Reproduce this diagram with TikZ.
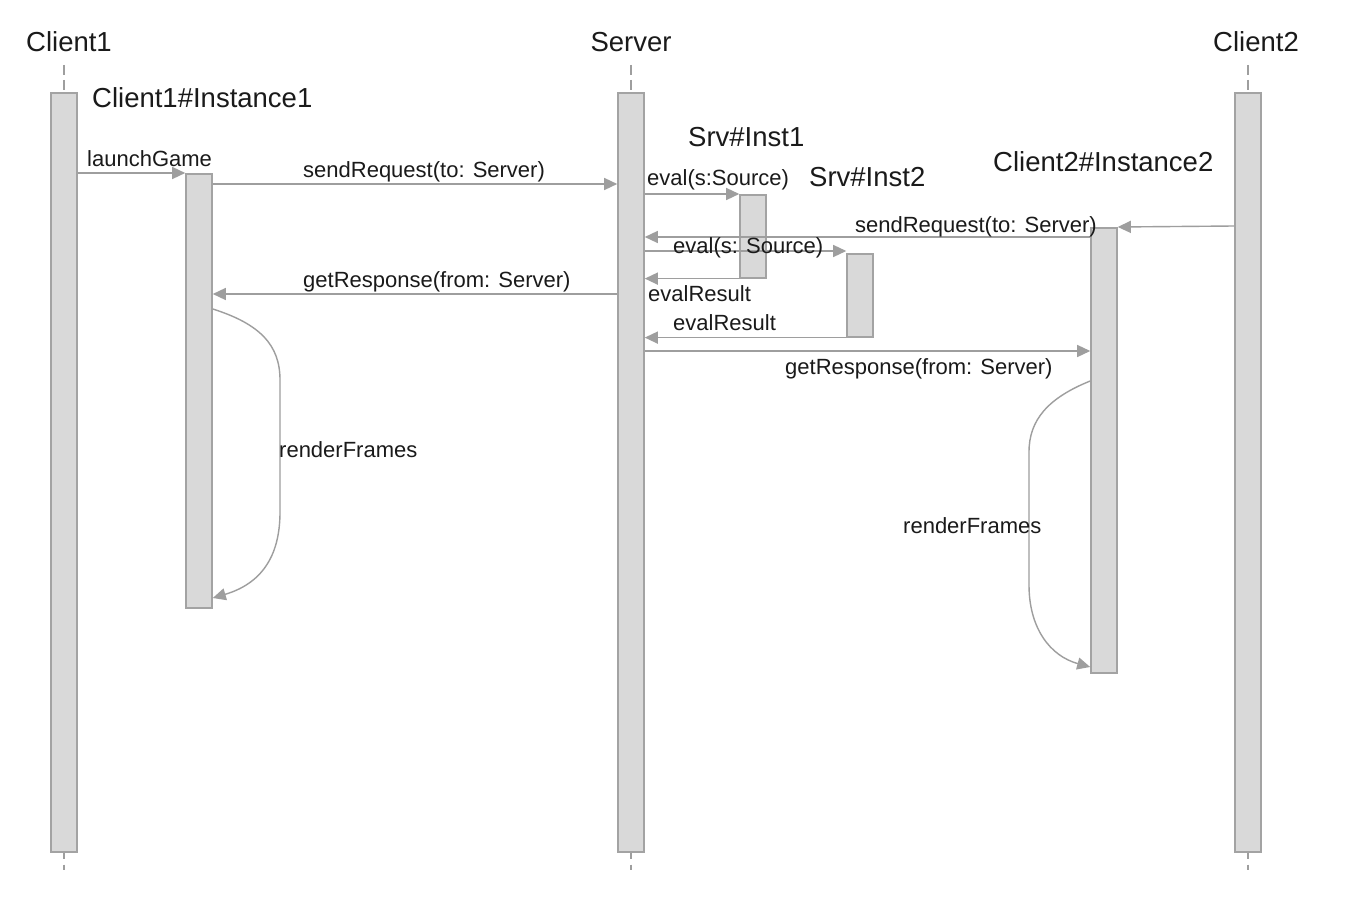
\documentclass[tikz,border=0pt]{standalone}
\usepackage{fontspec}
\setmainfont{Liberation Sans}
\usetikzlibrary{arrows.meta}
\definecolor{linegray}{HTML}{9E9E9E}
\definecolor{barfill}{HTML}{D9D9D9}
\definecolor{bardraw}{HTML}{A3A3A3}
\definecolor{txt}{HTML}{1A1A1A}
\tikzset{
  bar/.style={draw=bardraw, fill=barfill, line width=1.6pt, minimum width=26pt, inner sep=0pt, anchor=north},
  msg/.style={draw=linegray, line width=1.4pt, -{Triangle[length=13pt,width=12pt]}},
  life/.style={draw=linegray, line width=1.4pt},
  lbl/.style={font=\fontsize{22}{24}\selectfont, text=txt, inner sep=0pt},
  ttl/.style={font=\fontsize{27.5}{30}\selectfont, text=txt, inner sep=0pt},
}
\begin{document}
\begin{tikzpicture}[x=1pt,y=-1pt]
\useasboundingbox[fill=white] (0,0) rectangle (1360,912);

% lifelines
\node[bar, minimum height=759pt] (c1) at (64,92) {};
\node[bar, minimum height=759pt] (srv) at (631,92) {};
\node[bar, minimum height=759pt] (c2) at (1248,92) {};
\foreach \n in {c1,srv,c2} {
  \draw[life, dash pattern=on 10pt off 5pt] (\n.north |- 0,65) -- (\n.north);
  \draw[life, dash pattern=on 6pt off 6pt] (\n.south) -- ++(0,17);
}

% activations
\node[bar, minimum height=434pt] (c1i) at (199,173) {};
\node[bar, minimum height=83pt] (si1) at (753,194) {};
\node[bar, minimum height=83pt] (si2) at (860,253) {};
\node[bar, minimum height=445pt] (c2i) at (1104,227) {};

% messages
\draw[msg] (c1.east |- c1i.north) -- (c1i.north west);
\draw[msg] (c1i.east |- 0,184) -- (srv.west |- 0,184);
\draw[msg] (srv.east |- si1.north) -- (si1.north west);
\draw[msg] (c2.west |- 0,226) -- (c2i.north east);
\draw[msg] (c2i.west |- 0,237) -- (srv.east |- 0,237);
\draw[msg] (srv.east |- 0,251) -- (si2.west |- 0,251);
\draw[msg] (si1.south west) -- (srv.east |- si1.south);
\draw[msg] (srv.west |- 0,294) -- (c1i.east |- 0,294);
\draw[msg] (si2.south west) -- (srv.east |- si2.south);
\draw[msg] (srv.east |- 0,351) -- (c2i.west |- 0,351);

% self calls
\draw[msg] (c1i.east |- 0,309) .. controls (260,324) and (280,345) .. (280,380)
  -- (280,512) .. controls (280,558) and (260,584) .. (c1i.east |- 0,598);
\draw[msg] (c2i.west |- 0,381) .. controls (1048,398) and (1029,420) .. (1029,452)
  -- (1029,585) .. controls (1029,628) and (1050,656) .. (c2i.west |- 0,667);

% titles
\node[ttl, anchor=base] at (69,52) {Client1};
\node[ttl, anchor=base] at (631,52) {Server};
\node[ttl, anchor=base] at (1256,52) {Client2};
\node[ttl, anchor=base west] at (92,108) {Client1\#Instance1};
\node[ttl, anchor=base west] at (688,147) {Srv\#Inst1};
\node[ttl, anchor=base west] at (809,187) {Srv\#Inst2};
\node[ttl, anchor=base west] at (993,172) {Client2\#Instance2};

% labels
\node[lbl, anchor=base west] at (87,167) {launchGame};
\node[lbl, anchor=base west] at (303,178) {sendRequest(to: Server)};
\node[lbl, anchor=base west] at (647,186) {eval(s:Source)};
\node[lbl, anchor=base east] at (1097,233) {sendRequest(to: Server)};
\node[lbl, anchor=base west] at (673,253) {eval(s: Source)};
\node[lbl, anchor=base west] at (303,287) {getResponse(from: Server)};
\node[lbl, anchor=base west] at (648,301) {evalResult};
\node[lbl, anchor=base west] at (673,330) {evalResult};
\node[lbl, anchor=base west] at (785,374) {getResponse(from: Server)};
\node[lbl, anchor=base west] at (279,457) {renderFrames};
\node[lbl, anchor=base west] at (903,533) {renderFrames};
\end{tikzpicture}
\end{document}
